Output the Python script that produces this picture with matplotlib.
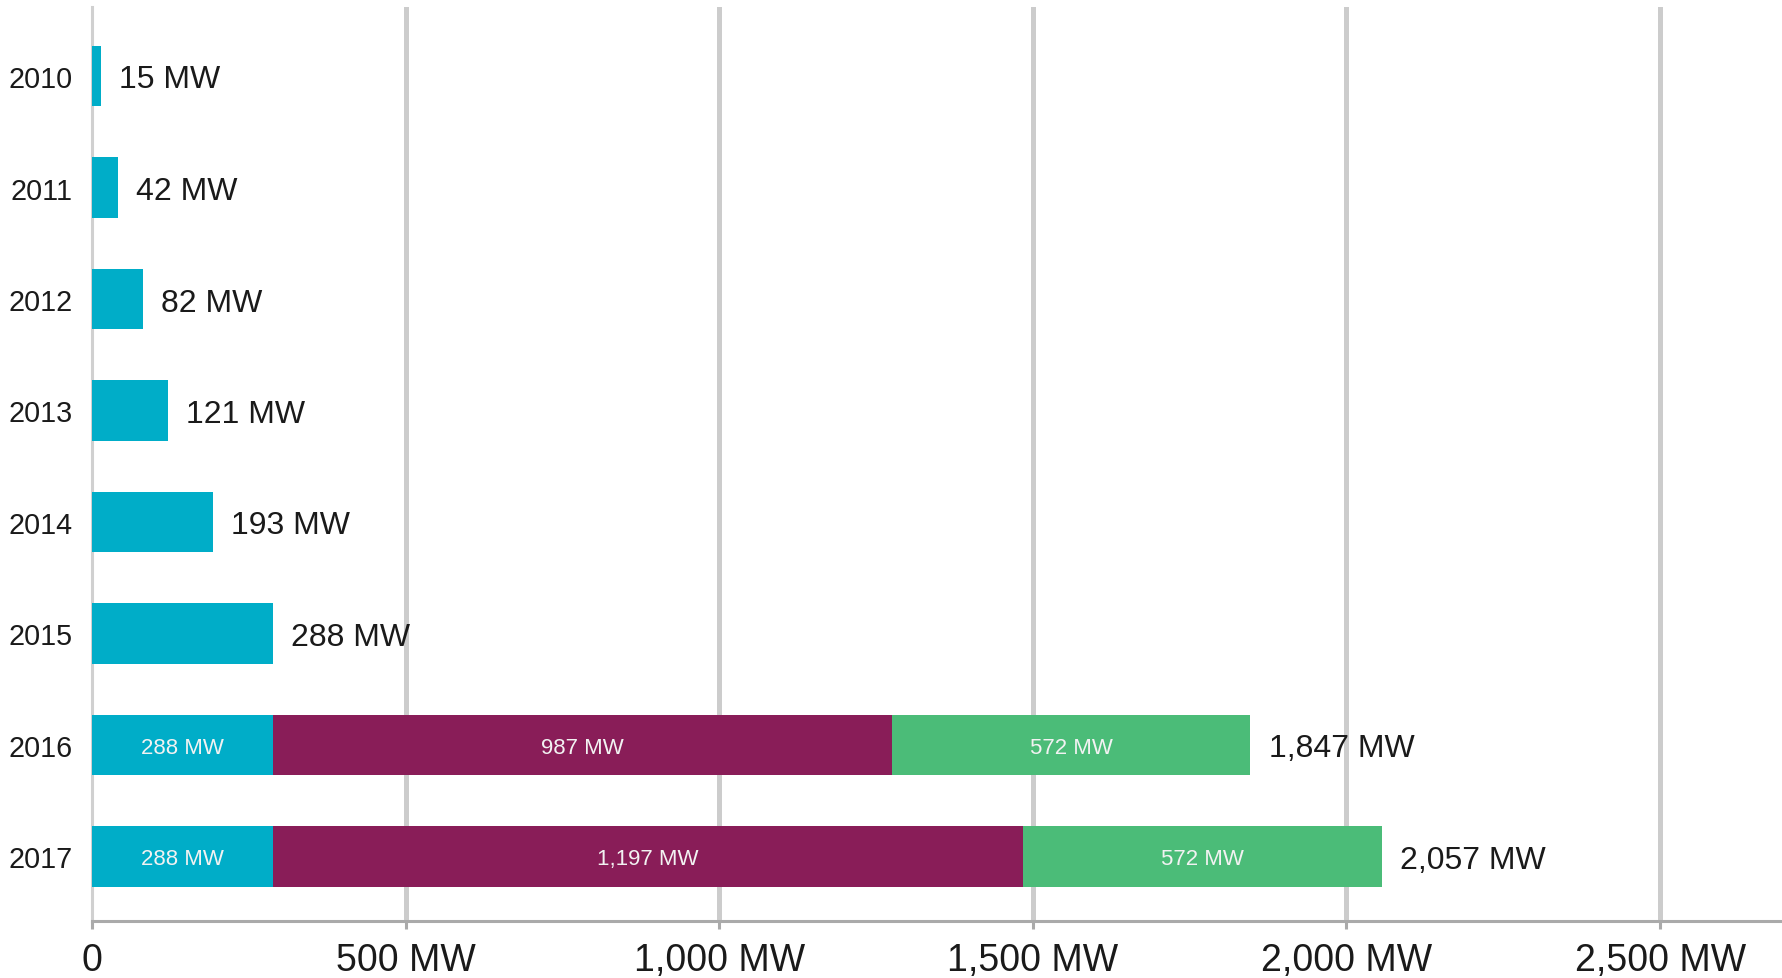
import matplotlib.pyplot as plt
import numpy as np

plt.rcParams['font.family'] = ['Liberation Sans', 'DejaVu Sans']

# === DATOS ===
years = ["2010", "2011", "2012", "2013", "2014", "2015", "2016", "2017"]
cyan_vals = [15, 42, 82, 121, 193, 288, 288, 288]
purple_vals = [0, 0, 0, 0, 0, 0, 987, 1197]
green_vals = [0, 0, 0, 0, 0, 0, 572, 572]
totals = [15, 42, 82, 121, 193, 288, 1847, 2057]
xticks = [0, 500, 1000, 1500, 2000, 2500]
xtick_labels = ["0", "500 MW", "1,000 MW", "1,500 MW", "2,000 MW", "2,500 MW"]

c_cyan = "#00ADC8"
c_purple = "#891D58"
c_green = "#4BBC78"

fig = plt.figure(figsize=(17.83, 9.79), dpi=100)
ax = fig.add_axes([92 / 1783, 1 - 922 / 979, 1 - 92 / 1783, (922 - 8) / 979])

y = np.arange(len(years))
h = 0.54
cyan = np.array(cyan_vals)
purple = np.array(purple_vals)
green = np.array(green_vals)

ax.barh(y, cyan, height=h, color=c_cyan, zorder=3)
ax.barh(y, purple, left=cyan, height=h, color=c_purple, zorder=3)
ax.barh(y, green, left=cyan + purple, height=h, color=c_green, zorder=3)

# etiquetas dentro de los segmentos (solo barras apiladas)
for i in range(len(years)):
    if purple[i] > 0:
        segs = [(0, cyan[i]), (cyan[i], purple[i]), (cyan[i] + purple[i], green[i])]
        for left, w in segs:
            ax.text(left + w / 2, y[i], f"{w:,} MW", ha="center", va="center_baseline",
                    color="#F2F2F2", fontsize=16, zorder=4)
    ax.annotate(f"{totals[i]:,} MW", xy=(totals[i], y[i]), xytext=(13, 0),
                textcoords="offset points", ha="left", va="center_baseline",
                fontsize=23, color="#1a1a1a", zorder=4)

ax.set_xlim(0, 2696)
ax.set_ylim(7 + (922 - 857.5) / 111.5, -(77 - 8) / 111.5)

ax.set_xticks(xticks)
ax.set_xticklabels(xtick_labels, fontsize=27, color="#1a1a1a")
ax.set_yticks(y)
ax.set_yticklabels(years, fontsize=20.7, color="#1a1a1a")

ax.tick_params(axis="y", length=0, pad=14)
ax.tick_params(axis="x", length=6, width=2.2, color="#AAAAAA", pad=9)

for v in xticks[1:]:
    ax.axvline(v, color="#CCCCCC", lw=3.6, zorder=1)

for s in ["top", "right"]:
    ax.spines[s].set_visible(False)
ax.spines["left"].set_color("#D0D0D0")
ax.spines["left"].set_linewidth(2.2)
ax.spines["bottom"].set_color("#AAAAAA")
ax.spines["bottom"].set_linewidth(2.2)

fig.savefig("out.png", dpi=100)
